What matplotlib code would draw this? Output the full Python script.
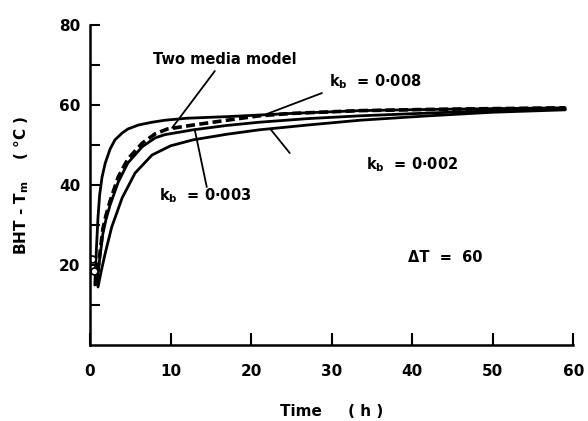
import matplotlib
matplotlib.use("Agg")
import matplotlib.pyplot as plt

# ---- data ----
t_two = [0.6, 0.8, 1.0, 1.2, 1.5, 1.9, 2.5, 3.1, 4.0, 4.7, 6.0, 7.7, 9.3, 12, 17, 25, 33.5, 42, 50, 59]
y_two = [15, 24, 32, 37.5, 42, 45.5, 49, 51.3, 53, 54, 55, 55.7, 56.2, 56.7, 57.1, 57.9, 58.6, 58.9, 59.1, 59.3]

t_k008 = [0.9, 1.0, 1.3, 1.6, 2.0, 2.5, 3.5, 4.7, 6.5, 8.1, 9.6, 12.8, 17, 21, 25, 33.5, 42, 50, 59]
y_k008 = [15, 19, 24, 29, 32.5, 36, 42, 46.5, 50.5, 52.8, 54, 55, 56.2, 57.3, 57.9, 58.6, 58.9, 59.1, 59.3]

t_k003 = [0.9, 1.0, 1.3, 1.6, 2.0, 2.5, 3.5, 4.7, 6.5, 8.1, 9.3, 12.8, 17, 21, 27, 33.5, 42, 50, 59]
y_k003 = [15, 18, 23, 27.8, 31.5, 35, 40.7, 45.5, 49.6, 51.8, 52.6, 53.8, 54.9, 55.7, 56.6, 57.3, 58.0, 58.6, 59.0]

t_k002 = [1.0, 1.4, 1.9, 2.7, 4.0, 5.6, 7.7, 10, 12.8, 17, 21, 27, 33.5, 42, 50, 59]
y_k002 = [14.5, 18.5, 23, 29.5, 36.8, 43, 47.5, 49.8, 51.3, 52.7, 53.8, 55, 56.2, 57.3, 58.2, 58.8]

t_circ = [0.3, 0.5]
y_circ = [21.5, 18.5]

x_ticks = [0, 10, 20, 30, 40, 50, 60]
y_ticks = [10, 20, 30, 40, 50, 60, 70, 80]
y_tick_labels = ["", "20", "", "40", "", "60", "", "80"]

plt.rcParams['font.family'] = ['DejaVu Sans']
plt.rcParams['font.weight'] = 'bold'
plt.rcParams['mathtext.default'] = 'bf'

fig = plt.figure(figsize=(5.88, 4.21), dpi=100)
ax = fig.add_axes([0.153, 0.1805, 0.822, 0.760])

lw = 2.0
ax.plot(t_two, y_two, color='black', lw=lw, solid_capstyle='round')
ax.plot(t_k003, y_k003, color='black', lw=lw, solid_capstyle='round')
ax.plot(t_k002, y_k002, color='black', lw=lw, solid_capstyle='round')
ax.plot(t_k008, y_k008, color='black', lw=2.6, ls=(0, (2.5, 1.2)))
ax.plot(t_circ, y_circ, ls='none', marker='o', ms=5, mfc='white', mec='black', mew=1.2)

ax.set_xlim(0, 60)
ax.set_ylim(0, 80)
ax.set_xticks(x_ticks)
ax.set_yticks(y_ticks)
ax.set_yticklabels(y_tick_labels)

for s in ['top', 'right']:
    ax.spines[s].set_visible(False)
for s in ['left', 'bottom']:
    ax.spines[s].set_linewidth(1.8)

ax.tick_params(axis='x', direction='in', length=9, width=1.5, pad=14, labelsize=11)
ax.tick_params(axis='y', direction='in', length=7, width=1.5, pad=7, labelsize=11)
for lab in ax.get_xticklabels() + ax.get_yticklabels():
    lab.set_fontweight('bold')

ax.set_xlabel("Time     ( h )", fontsize=11, fontweight='bold', labelpad=18)
ax.set_ylabel("BHT - T$_\\mathrm{m}$    ( °C )", fontsize=11, fontweight='bold', labelpad=20)

arrow = dict(arrowstyle='-', color='black', lw=1.3, shrinkA=0, shrinkB=0)
ax.text(16.8, 71.4, "Two media model", ha='center', va='center', fontsize=10.5, fontweight='bold')
ax.annotate("", xy=(10.2, 54.3), xytext=(15.5, 68.5), arrowprops=arrow)
ax.annotate("", xy=(22.0, 57.8), xytext=(28.8, 63.0), arrowprops=arrow)
ax.text(35.4, 65.9, "k$_b$  = 0·008", ha='center', va='center', fontsize=10.5, fontweight='bold')
ax.annotate("", xy=(22.4, 54.0), xytext=(24.8, 48.0), arrowprops=arrow)
ax.text(40.0, 45.0, "k$_b$  = 0·002", ha='center', va='center', fontsize=10.5, fontweight='bold')
ax.annotate("", xy=(13.0, 53.9), xytext=(14.5, 39.5), arrowprops=arrow)
ax.text(14.3, 37.3, "k$_b$  = 0·003", ha='center', va='center', fontsize=10.5, fontweight='bold')
ax.text(44.1, 21.8, "ΔT  =  60", ha='center', va='center', fontsize=10.5, fontweight='bold')

fig.savefig("out.png", dpi=100)
